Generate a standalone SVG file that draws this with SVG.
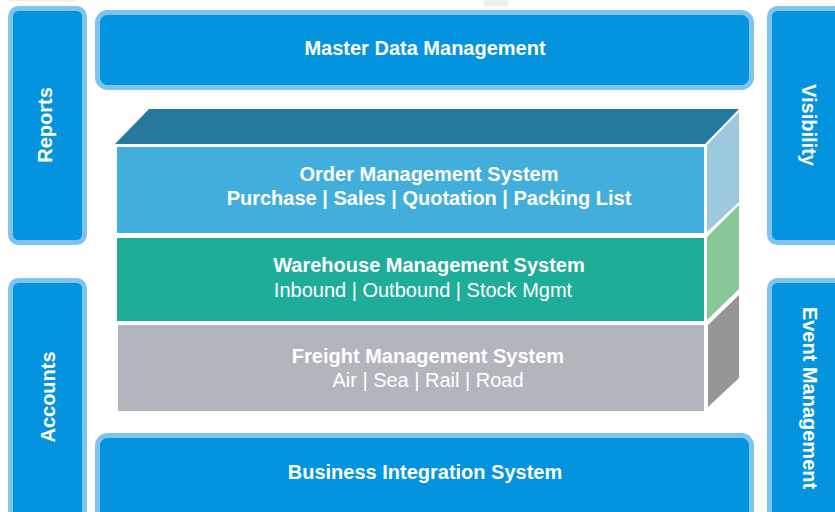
<svg xmlns="http://www.w3.org/2000/svg" width="835" height="512" viewBox="0 0 835 512">
<style>
.box{fill:#0493DE;stroke:#7DC4EE;stroke-width:5}
.t{font-family:"Liberation Sans",Arial,sans-serif;font-size:20px;fill:#FFFFFF;text-anchor:middle}
.b{font-weight:bold}
</style>
<rect width="835" height="512" fill="#FFFFFF"/>
<rect x="484" y="0" width="24" height="6" rx="2" fill="#EFEFEF"/>
<rect x="8" y="0" width="68" height="1.5" fill="#EFEFEF"/>
<g id="reports">
<rect class="box" x="10.5" y="8.5" width="74" height="234" rx="8"/>
<text class="t b" transform="translate(52,125) rotate(-90)">Reports</text>
</g>
<g id="master-data">
<rect class="box" x="97.5" y="12.5" width="654" height="75" rx="10"/>
<text class="t b" x="425" y="55">Master Data Management</text>
</g>
<g id="visibility">
<rect class="box" x="769.5" y="8.5" width="80" height="234" rx="8"/>
<text class="t b" transform="translate(802,125) rotate(90)">Visibility</text>
</g>
<g id="accounts">
<rect class="box" x="10.5" y="280.5" width="74" height="250" rx="8"/>
<text class="t b" transform="translate(54.5,397) rotate(-90)">Accounts</text>
</g>
<g id="event-management">
<rect class="box" x="769.5" y="280.5" width="80" height="250" rx="8"/>
<text class="t b" transform="translate(802.5,398) rotate(90)">Event Management</text>
</g>
<g id="business-integration">
<rect class="box" x="97.5" y="435.5" width="654" height="90" rx="10"/>
<text class="t b" x="425" y="479">Business Integration System</text>
</g>
<g id="stack-top">
<polygon points="115,144 149,109 739,109 705,144" fill="#26799B"/>
</g>
<g id="order-management">
<rect x="117" y="147" width="587" height="86" fill="#42AEDB"/>
<polygon points="707,145 739,112 739,202 707,232" fill="#9DC9DF"/>
<text class="t b" x="429" y="181">Order Management System</text>
<text class="t b" x="429" y="205">Purchase | Sales | Quotation | Packing List</text>
</g>
<g id="warehouse-management">
<rect x="117" y="238" width="587" height="83" fill="#1EAD99"/>
<polygon points="707,237 739,205 739,289 707,320" fill="#88C797"/>
<text class="t b" x="429" y="272">Warehouse Management System</text>
<text class="t" x="423" y="297">Inbound | Outbound | Stock Mgmt</text>
</g>
<g id="freight-management">
<rect x="118" y="325" width="586" height="86" fill="#B3B5BD"/>
<polygon points="708,325 739,295 739,378 708,407" fill="#979596"/>
<text class="t b" x="428" y="363">Freight Management System</text>
<text class="t" x="428" y="387">Air | Sea | Rail | Road</text>
</g>
<g id="connectors"></g>
</svg>
